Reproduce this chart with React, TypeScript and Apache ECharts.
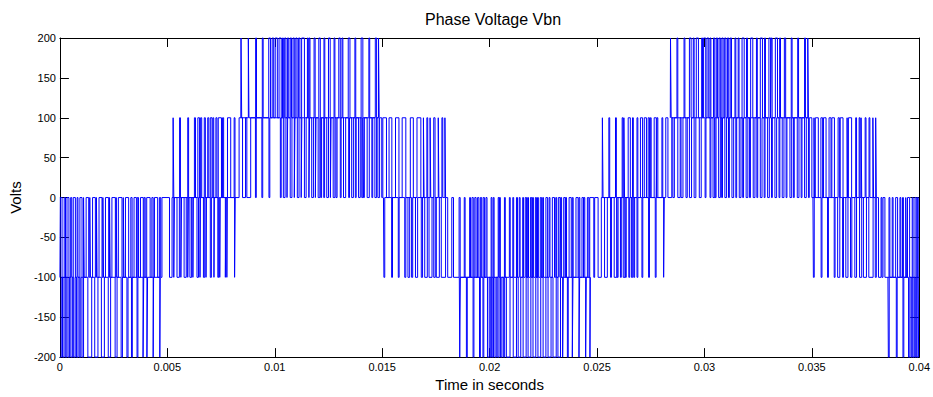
import React, { useEffect, useRef } from "react";
import * as echarts from "echarts";

// ---- Axis tick labels ----
const xTickLabels = ["0", "0.005", "0.01", "0.015", "0.02", "0.025", "0.03", "0.035", "0.04"];
const yTickLabels = ["-200", "-150", "-100", "-50", "0", "50", "100", "150", "200"];

// ---- Waveform bands (time in ms) ----
// each band: the signal toggles between bandStartLevel and bandOtherLevel at the listed instants
const bandFrom = [0, 0, 5.26, 8.42, 15.06, 18.59, 25.24, 28.41, 35.05, 38.54];
const bandTo = [4.69, 8.17, 18.0, 14.87, 28.14, 24.7, 38.01, 34.85, 40, 40];
const bandStartLevel = [-200, -100, 0, 100, 0, -100, 0, 100, 0, -100];
const bandOtherLevel = [-100, 0, 100, 200, -100, -200, 100, 200, -100, -200];

const band1 = [
  0.06, 0.12, 0.19, 0.25, 0.32, 0.38, 0.45, 0.51, 0.58, 0.64, 0.71, 0.77, 0.84, 0.9, 0.97, 1.03, 1.1,
  1.3, 1.48, 1.62, 1.77, 1.93, 2.07, 2.25, 2.36, 2.57, 2.66, 2.85, 2.91, 3.12, 3.17, 3.33, 3.37,
  3.59, 3.63, 3.87, 3.9, 4.05, 4.08, 4.34, 4.36, 4.65, 4.67,
];
const band2 = [
  0.02, 0.1, 0.2, 0.26, 0.33, 0.42, 0.5, 0.55, 0.62, 0.72, 0.8, 0.84, 0.93, 1.03, 1.1, 1.13,
  1.22, 1.34, 1.39, 1.42, 1.52, 1.65, 1.7, 1.73, 1.82, 1.96, 2.0, 2.03, 2.12, 2.27, 2.31, 2.34,
  2.42, 2.58, 2.62, 2.65, 2.72, 2.89, 2.95, 2.98, 3.05, 3.2, 3.3, 3.36, 3.45, 3.56, 3.6, 3.66,
  3.75, 3.88, 3.92, 3.97, 4.04, 4.2, 4.28, 4.34, 4.4, 4.55, 4.63, 4.69, 4.75,
  5.1, 5.22, 5.3, 5.33, 5.45, 5.56, 5.63, 5.66, 5.78, 5.88, 5.95, 5.98, 6.05, 6.13, 6.19, 6.21,
  6.38, 6.45, 6.52, 6.54, 6.68, 6.74, 6.8, 6.82, 7.0, 7.05, 7.17, 7.19, 7.35, 7.39, 7.44, 7.46,
  7.7, 7.73, 7.77, 7.79, 8.13, 8.16,
];
const band3 = [
  5.27, 5.3, 5.57, 5.61, 5.95, 5.99, 6.26, 6.31, 6.42, 6.5, 6.55, 6.6, 6.72, 6.77, 6.88, 6.93,
  7.0, 7.08, 7.12, 7.16, 7.26, 7.31, 7.37, 7.52, 7.57, 7.62, 7.8, 7.95, 8.11, 8.15, 8.34, 8.5,
  8.64, 8.7, 8.88, 9.1, 9.14, 9.4, 9.44, 9.73, 9.77,
  10.26, 10.3, 10.4, 10.48, 10.57, 10.6, 10.72, 10.8, 10.91, 10.94, 11.05, 11.13, 11.23, 11.26,
  11.38, 11.46, 11.59, 11.62, 11.72, 11.8, 11.89, 11.92, 12.02, 12.1, 12.14, 12.18, 12.28, 12.32,
  12.42, 12.5, 12.59, 12.62, 12.72, 12.8, 12.85, 12.9, 13.05, 13.09, 13.2, 13.3, 13.44, 13.48,
  13.58, 13.66, 13.75, 13.79, 13.9, 13.98, 14.05, 14.1, 14.13, 14.17, 14.3, 14.4, 14.52, 14.56,
  14.66, 14.74, 14.8, 14.88, 14.98, 15.03, 15.2, 15.32, 15.45, 15.62, 15.78, 15.93, 16.1, 16.31,
  16.45, 16.62, 16.8, 16.92, 16.95, 17.08, 17.12, 17.23, 17.26, 17.4, 17.46, 17.61, 17.64,
  17.78, 17.82, 17.92, 17.95,
];
const band4 = [
  8.43, 8.46, 8.77, 8.8, 9.11, 9.15, 9.42, 9.46, 9.72, 9.8, 9.88, 9.95, 10.02, 10.12, 10.2, 10.3,
  10.36, 10.4, 10.46, 10.52, 10.59, 10.65, 10.72, 10.78, 10.85, 10.91, 10.98, 11.04, 11.11, 11.17,
  11.25, 11.38, 11.52, 11.56, 11.6, 11.64, 11.83, 11.88, 12.05, 12.12, 12.29, 12.33, 12.5, 12.58,
  12.76, 12.8, 12.98, 13.05, 13.13, 13.17, 13.42, 13.5, 13.73, 13.77, 14.02, 14.1, 14.38, 14.42,
  14.68, 14.74, 14.83, 14.86,
];
const band5 = [
  15.08, 15.12, 15.44, 15.48, 15.75, 15.79, 16.05, 16.1, 16.2, 16.28, 16.37, 16.42, 16.55, 16.65,
  16.82, 16.88, 16.98, 17.1, 17.18, 17.32, 17.4, 17.47, 17.52, 17.66, 17.75, 17.95, 18.05, 18.24,
  18.32, 18.58, 18.63, 18.82, 18.86, 19.07, 19.11,
  19.18, 19.24, 19.31, 19.37, 19.44, 19.5, 19.57, 19.63, 19.7, 19.76, 19.83, 19.88,
  20.07, 20.11, 20.17, 20.21, 20.4, 20.44, 20.46, 20.5, 20.69, 20.73, 20.92, 20.96, 21.08, 21.12,
  21.25, 21.3, 21.38, 21.42, 21.54, 21.58, 21.66, 21.72, 21.77, 21.81, 21.9, 21.96, 22.0, 22.04,
  22.13, 22.18, 22.23, 22.27, 22.36, 22.42, 22.47, 22.51, 22.62, 22.7, 22.77, 22.81, 22.92, 23.02,
  23.08, 23.12, 23.2, 23.28, 23.31, 23.35, 23.45, 23.52, 23.54, 23.58, 23.7, 23.8, 23.85, 23.89,
  24.02, 24.12, 24.16, 24.2, 24.3, 24.37, 24.39, 24.43, 24.55, 24.62, 24.66,
  24.85, 24.89, 25.05, 25.2, 25.35, 25.48, 25.63, 25.67, 25.8, 25.92, 25.94, 25.98, 26.09, 26.13,
  26.22, 26.3, 26.32, 26.36, 26.48, 26.52, 26.6, 26.66, 26.71, 26.75, 26.86, 26.9, 27.09, 27.13,
  27.4, 27.44, 27.71, 27.75, 28.1, 28.13,
];
const band6 = [
  18.61, 18.64, 18.92, 18.96, 19.23, 19.27, 19.53, 19.57, 19.69, 19.73, 19.9, 19.98, 20.03, 20.08,
  20.12, 20.18, 20.25, 20.31, 20.38, 20.44, 20.51, 20.57, 20.64, 20.7, 20.78,
  20.95, 21.1, 21.25, 21.33, 21.45, 21.56, 21.7, 21.79, 21.92, 22.02, 22.15, 22.25, 22.38, 22.49,
  22.62, 22.72, 22.86, 22.95, 23.1, 23.18, 23.3,
  23.4, 23.43, 23.62, 23.66, 23.85, 23.88, 24.16, 24.19, 24.47, 24.5, 24.67, 24.69,
];
const band7 = [
  25.25, 25.28, 25.55, 25.59, 25.86, 25.9, 26.17, 26.21, 26.25, 26.28, 26.45, 26.55, 26.65, 26.69,
  26.86, 26.9, 27.02, 27.12, 27.2, 27.3, 27.38, 27.44, 27.48, 27.52, 27.66, 27.76, 27.79, 27.83,
  28.02, 28.06, 28.2, 28.3, 28.48, 28.53, 28.6, 28.76, 28.87, 28.91, 29.0, 29.14, 29.2, 29.3,
  29.4, 29.52, 29.6, 29.76, 29.85,
  30.03, 30.07, 30.26, 30.3, 30.4, 30.48, 30.5, 30.54, 30.66, 30.74, 30.8, 30.84, 30.95, 31.03,
  31.12, 31.16, 31.28, 31.36, 31.46, 31.5, 31.62, 31.7, 31.78, 31.82, 31.94, 32.02, 32.1, 32.14,
  32.27, 32.35, 32.44, 32.48, 32.6, 32.68, 32.78, 32.82, 32.94, 33.02, 33.12, 33.16, 33.28, 33.36,
  33.47, 33.51, 33.62, 33.7, 33.8, 33.84, 33.98, 34.06, 34.14, 34.18, 34.32, 34.4, 34.5, 34.54,
  34.66, 34.74, 34.84, 34.88, 35.0, 35.1, 35.12, 35.16, 35.3, 35.42, 35.5, 35.54, 35.66, 35.8,
  35.89, 35.93, 36.05, 36.22, 36.28, 36.32, 36.45, 36.64, 36.66, 36.7, 36.85,
  37.04, 37.08, 37.2, 37.24, 37.29, 37.32, 37.48, 37.52, 37.66, 37.7, 37.84, 37.87, 37.97, 38.0,
];
const band8 = [
  28.42, 28.45, 28.72, 28.76, 29.05, 29.09, 29.3, 29.38, 29.48, 29.52, 29.62, 29.72, 29.87, 29.91,
  29.96, 30.06, 30.12, 30.2, 30.26, 30.3,
  30.42, 30.48, 30.55, 30.61, 30.68, 30.74, 30.81, 30.87, 30.94, 31.0, 31.07, 31.13, 31.2, 31.26,
  31.42, 31.46, 31.57, 31.61, 31.75, 31.85, 31.96, 32.0, 32.15, 32.25, 32.42, 32.46, 32.6, 32.7,
  32.8, 32.84, 33.0, 33.08, 33.11, 33.15, 33.3, 33.4, 33.5, 33.54, 33.72, 33.78, 34.04, 34.08,
  34.34, 34.38, 34.66, 34.7, 34.81, 34.84,
];
const band9 = [
  35.07, 35.11, 35.43, 35.47, 35.73, 35.77, 36.04, 36.08, 36.2, 36.3, 36.43, 36.47, 36.58, 36.68,
  36.8, 36.86, 37.0, 37.08, 37.22, 37.32, 37.4, 37.54, 37.65, 37.85, 37.95, 38.0, 38.1, 38.22,
  38.26, 38.31, 38.4,
  38.59, 38.63, 38.74, 38.78, 38.9, 38.99, 39.1, 39.14, 39.22, 39.26, 39.37, 39.4, 39.45, 39.55,
  39.67, 39.71, 39.8, 39.86, 39.91, 39.95,
];
const band10 = [
  38.56, 38.6, 38.93, 38.97, 39.24, 39.28, 39.5, 39.56, 39.62, 39.66, 39.7, 39.76, 39.8, 39.84,
  39.88, 39.94, 39.97,
];
const bandToggles = [band1, band2, band3, band4, band5, band6, band7, band8, band9, band10];

const FONT = "'Liberation Sans', Arial, sans-serif";

function buildBand(i: number): number[][] {
  const pts: number[][] = [];
  let cur = bandStartLevel[i];
  const other = bandOtherLevel[i];
  const start = bandStartLevel[i];
  pts.push([bandFrom[i] / 1000, cur]);
  for (const t of bandToggles[i]) {
    pts.push([t / 1000, cur]);
    cur = cur === start ? other : start;
    pts.push([t / 1000, cur]);
  }
  pts.push([bandTo[i] / 1000, cur]);
  return pts;
}

export default function App() {
  const ref = useRef<HTMLDivElement>(null);
  useEffect(() => {
    if (!ref.current) return;
    const chart = echarts.init(ref.current, undefined, { renderer: "svg" });
    const axisTick = { show: true, inside: true, length: 9, lineStyle: { color: "#000", width: 1 } };
    const axisLine = { show: true, onZero: false, lineStyle: { color: "#000", width: 1 } };
    const series = bandToggles.map((_, i) => ({
      type: "line",
      data: buildBand(i),
      symbol: "none",
      showSymbol: false,
      clip: false,
      silent: true,
      z: 5,
      lineStyle: { color: "#0000ff", width: 1 },
    }));
    chart.setOption({
      animation: false,
      backgroundColor: "#ffffff",
      title: {
        text: "Phase Voltage Vbn",
        left: 488,
        top: 6,
        textAlign: "center",
        textStyle: { fontSize: 16, fontWeight: "normal", color: "#000", fontFamily: FONT },
      },
      grid: { left: 56, right: 13, top: 38, bottom: 38, containLabel: false },
      xAxis: [
        {
          type: "value",
          position: "bottom",
          min: 0,
          max: 0.04,
          interval: 0.005,
          axisLine,
          axisTick,
          splitLine: { show: false },
          axisLabel: {
            color: "#000",
            fontSize: 11,
            fontFamily: FONT,
            margin: 4,
            formatter: (v: number) => xTickLabels[Math.round(v / 0.005)] ?? "",
          },
          name: "Time in seconds",
          nameLocation: "middle",
          nameGap: 18,
          nameTextStyle: { fontSize: 15, color: "#000", fontFamily: FONT },
        },
        {
          type: "value",
          position: "top",
          min: 0,
          max: 0.04,
          interval: 0.005,
          axisLine,
          axisTick,
          splitLine: { show: false },
          axisLabel: { show: false },
        },
      ],
      yAxis: [
        {
          type: "value",
          position: "left",
          min: -200,
          max: 200,
          interval: 50,
          axisLine,
          axisTick,
          splitLine: { show: false },
          axisLabel: {
            color: "#000",
            fontSize: 11,
            fontFamily: FONT,
            margin: 4,
            formatter: (v: number) => yTickLabels[Math.round((v + 200) / 50)] ?? "",
          },
          name: "Volts",
          nameLocation: "middle",
          nameRotate: 90,
          nameGap: 24,
          nameTextStyle: { fontSize: 15, color: "#000", fontFamily: FONT },
        },
        {
          type: "value",
          position: "right",
          min: -200,
          max: 200,
          interval: 50,
          axisLine,
          axisTick,
          splitLine: { show: false },
          axisLabel: { show: false },
        },
      ],
      series,
    });
    return () => chart.dispose();
  }, []);
  return (
    <div
      ref={ref}
      style={{ position: "fixed", left: 0, top: 0, width: 933, height: 397, background: "#fff" }}
    />
  );
}
